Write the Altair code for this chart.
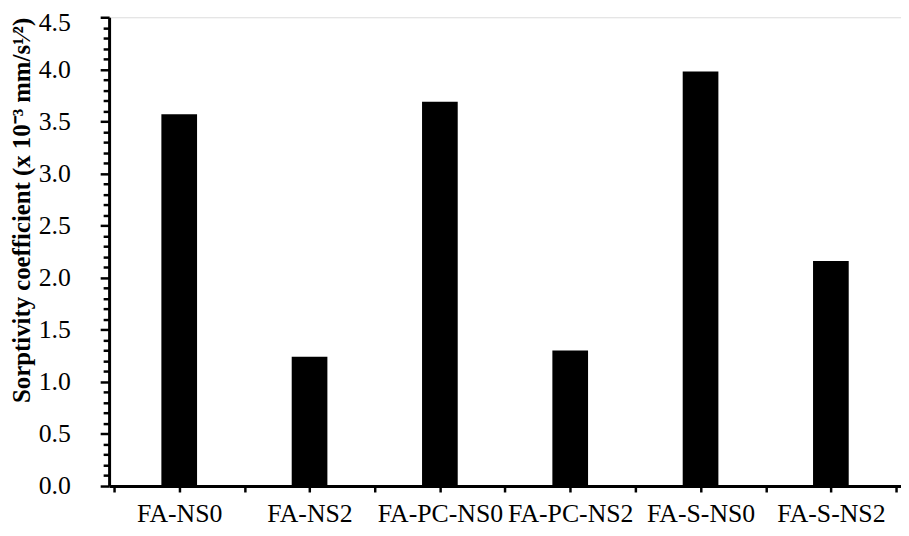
import json
import altair as alt
import pandas as pd

categories = ["FA-NS0", "FA-NS2", "FA-PC-NS0", "FA-PC-NS2", "FA-S-NS0", "FA-S-NS2"]
values = [3.57, 1.24, 3.69, 1.30, 3.98, 2.16]
y_ticks = [round(i * 0.1, 1) for i in range(46)]
x_ticks = [i * 0.5 for i in range(13)]

df = pd.DataFrame({
    "cat": categories,
    "pos": [i + 0.5 for i in range(len(categories))],
    "val": values,
})

FONT = "Times New Roman, Liberation Serif, serif"
cats_js = json.dumps(categories)
major = "round(datum.value * 10) % 5 == 0"

x_axis = alt.Axis(
    values=x_ticks,
    labelExpr=f"floor(datum.value) == datum.value ? '' : {cats_js}[floor(datum.value)]",
    labelOverlap=False,
    labelFlush=False,
    labelBound=False,
    labelFont=FONT,
    labelFontSize=26,
    labelColor="black",
    labelPadding=9,
    tickSize=6,
    tickWidth=2.5,
    tickColor="black",
    domainColor="black",
    domainWidth=3,
    grid=False,
    title=None,
)

y_axis = alt.Axis(
    values=y_ticks,
    labelExpr=f"{major} ? format(datum.value, '.1f') : ''",
    labelOverlap=False,
    labelFlush=False,
    labelBound=False,
    labelFont=FONT,
    labelFontSize=26,
    labelColor="black",
    labelPadding=30,
    labelOffset={"condition": {"test": "datum.value >= 4.5", "value": 5}, "value": 0},
    tickSize={"condition": {"test": major, "value": 9}, "value": 6},
    tickWidth=2.5,
    tickColor="black",
    domainColor="black",
    domainWidth=3,
    grid=False,
    title="Sorptivity coefficient (x 10\u207b\u00b3 mm/s\u00b9\u2044\u00b2)",
    titleFont=FONT,
    titleFontSize=25,
    titleFontWeight="bold",
    titleColor="black",
    titleAnchor="end",
    titleX=-75,
)

chart = alt.Chart(df).mark_bar(width=36, color="black").encode(
    x=alt.X("pos:Q", scale=alt.Scale(domain=[0, 6], nice=False, zero=False), axis=x_axis),
    y=alt.Y("val:Q", scale=alt.Scale(domain=[0, 4.5], nice=False), axis=y_axis),
    tooltip=["cat", "val"],
).properties(
    width=799,
    height=473,
    autosize=alt.AutoSizeParams(type="none"),
    padding={"left": 102, "top": 7, "right": 0, "bottom": 40},
).configure_view(stroke=None).configure(background="white")

chart.save("out.html", embed_options={"renderer": "svg", "actions": False})
